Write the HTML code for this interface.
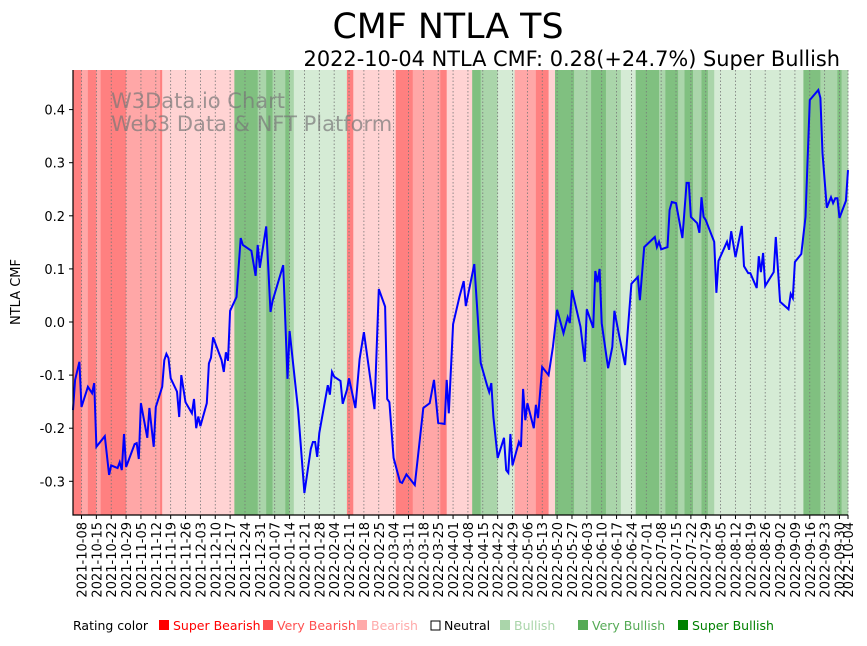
<!DOCTYPE html>
<html><head><meta charset="utf-8"><style>
body{margin:0;background:#fff;}
svg text{font-family:"DejaVu Sans","Liberation Sans",sans-serif;}
</style></head><body>
<svg id="chart" width="867" height="641" xmlns="http://www.w3.org/2000/svg">
<text x="448" y="38" font-size="34.8" text-anchor="middle">CMF NTLA TS</text>
<text x="840" y="66" font-size="20.9" text-anchor="end">2022-10-04 NTLA CMF: 0.28(+24.7%) Super Bullish</text>
<g id="bands"></g><g id="grid"></g>
<text x="111" y="108" font-size="21" fill="#777" fill-opacity="0.7">W3Data.io Chart</text>
<text x="111" y="131" font-size="21" fill="#777" fill-opacity="0.7">Web3 Data &amp; NFT Platform</text>
<path id="line" fill="none" stroke="#0000ff" stroke-width="2"/>
<g id="axes"></g>
<text transform="translate(20,292) rotate(-90)" font-size="13" text-anchor="middle">NTLA CMF</text>
<g id="legend" font-size="12.5">
<text x="73" y="630">Rating color</text>
<rect x="159" y="620" width="10" height="10" fill="#ff0000"/><text x="173" y="630" fill="#ff0000">Super Bearish</text>
<rect x="263" y="620" width="10" height="10" fill="#ff5050"/><text x="277" y="630" fill="#ff5050">Very Bearish</text>
<rect x="357" y="620" width="10" height="10" fill="#ffaaaa"/><text x="371" y="630" fill="#ffaaaa">Bearish</text>
<rect x="431" y="621" width="9" height="9" fill="#fff" stroke="#000"/><text x="444" y="630">Neutral</text>
<rect x="500" y="620" width="10" height="10" fill="#aad5aa"/><text x="514" y="630" fill="#aad5aa">Bullish</text>
<rect x="578" y="620" width="10" height="10" fill="#55aa55"/><text x="592" y="630" fill="#55aa55">Very Bullish</text>
<rect x="678" y="620" width="10" height="10" fill="#008000"/><text x="692" y="630" fill="#008000">Super Bullish</text>
</g>
</svg>
<script>
const days=[0,1,3,4,7,9,10,11,15,17,18,21,22,23,24,25,29,30,31,32,35,36,38,39,42,43,44,45,46,49,50,51,53,56,57,58,59,60,63,64,65,66,70,71,72,73,74,77,79,80,84,86,87,88,91,93,94,99,101,102,106,109,112,113,114,115,116,120,121,122,123,126,127,129,130,133,135,137,142,144,147,148,149,151,154,155,157,161,165,168,170,172,175,176,177,179,182,184,185,189,192,195,196,197,198,200,203,204,205,206,207,210,211,212,213,214,217,218,219,221,224,226,228,231,233,234,235,239,241,242,245,246,247,248,249,252,254,255,257,260,263,266,267,269,274,275,276,277,280,281,282,284,287,289,290,291,294,295,296,297,298,302,303,304,308,309,310,312,315,316,318,319,322,323,324,325,326,330,331,333,337,338,339,340,343,345,347,351,352,353,355,357,358,359,360,361,364,365];
const cmf=[-0.166,-0.109,-0.075,-0.16,-0.122,-0.134,-0.115,-0.235,-0.215,-0.288,-0.27,-0.275,-0.264,-0.279,-0.211,-0.273,-0.23,-0.228,-0.258,-0.153,-0.218,-0.162,-0.235,-0.16,-0.122,-0.072,-0.06,-0.068,-0.106,-0.131,-0.179,-0.1,-0.151,-0.172,-0.145,-0.2,-0.178,-0.196,-0.153,-0.078,-0.067,-0.029,-0.072,-0.094,-0.057,-0.073,0.021,0.047,0.158,0.145,0.134,0.087,0.145,0.102,0.18,0.019,0.04,0.107,-0.107,-0.017,-0.166,-0.322,-0.239,-0.226,-0.226,-0.254,-0.209,-0.119,-0.137,-0.094,-0.103,-0.111,-0.154,-0.128,-0.106,-0.162,-0.07,-0.019,-0.164,0.062,0.029,-0.145,-0.151,-0.256,-0.301,-0.303,-0.287,-0.307,-0.162,-0.153,-0.109,-0.19,-0.192,-0.109,-0.172,-0.004,0.047,0.077,0.03,0.109,-0.077,-0.119,-0.132,-0.115,-0.179,-0.256,-0.218,-0.279,-0.284,-0.211,-0.27,-0.226,-0.235,-0.126,-0.185,-0.153,-0.2,-0.156,-0.181,-0.085,-0.1,-0.047,0.023,-0.021,0.009,-0.002,0.06,-0.009,-0.075,0.024,-0.011,0.096,0.075,0.1,-0.002,-0.087,-0.047,0.021,-0.021,-0.081,0.072,0.085,0.041,0.141,0.16,0.141,0.151,0.137,0.141,0.211,0.226,0.224,0.158,0.262,0.262,0.198,0.186,0.168,0.235,0.198,0.192,0.151,0.055,0.115,0.151,0.136,0.171,0.122,0.181,0.105,0.092,0.092,0.064,0.124,0.094,0.13,0.068,0.094,0.16,0.038,0.024,0.053,0.045,0.113,0.128,0.198,0.418,0.437,0.422,0.318,0.215,0.235,0.224,0.233,0.233,0.196,0.228,0.286];
const bandStart=[0,4,7,11,13,25,41,42,76,87,91,94,100,102,104,129,132,152,160,173,176,188,192,200,208,218,224,227,236,244,251,258,265,276,279,285,288,292,296,299,302,344,352,360,362];
const bandEnd=[4,7,11,13,25,41,42,76,87,91,94,100,102,104,129,132,152,160,173,176,188,192,200,208,218,224,227,236,244,251,258,265,276,279,285,288,292,296,299,302,344,352,360,362,365];
const bandRating=[0,1,0,1,0,1,0,2,6,5,6,5,6,5,4,0,2,0,1,0,2,6,5,4,1,0,2,6,5,6,5,4,6,5,6,5,6,5,6,5,4,6,5,6,5];
const yTicks=[0.4,0.3,0.2,0.1,0.0,-0.1,-0.2,-0.3];
const tickDates=["2021-10-08","2021-10-15","2021-10-22","2021-10-29","2021-11-05","2021-11-12","2021-11-19","2021-11-26","2021-12-03","2021-12-10","2021-12-17","2021-12-24","2021-12-31","2022-01-07","2022-01-14","2022-01-21","2022-01-28","2022-02-04","2022-02-11","2022-02-18","2022-02-25","2022-03-04","2022-03-11","2022-03-18","2022-03-25","2022-04-01","2022-04-08","2022-04-15","2022-04-22","2022-04-29","2022-05-06","2022-05-13","2022-05-20","2022-05-27","2022-06-03","2022-06-10","2022-06-17","2022-06-24","2022-07-01","2022-07-08","2022-07-15","2022-07-22","2022-07-29","2022-08-05","2022-08-12","2022-08-19","2022-08-26","2022-09-02","2022-09-09","2022-09-16","2022-09-23","2022-09-30","2022-10-04"];
const ratingColors=["#ff8080","#ffa7a7","#ffd3d3","#ffffff","#d5ebd5","#aad5aa","#80c080"];
const L=73,R=848,T=70,B=515,D0=Date.UTC(2021,9,4);
const x=d=>L+(d/365)*(R-L);
const y=v=>322-v*531;
const NS="http://www.w3.org/2000/svg";
function mk(tag,parent){const e=document.createElementNS(NS,tag);parent.appendChild(e);return e;}
const bands=document.getElementById('bands');
for(let i=0;i<bandStart.length;i++){const r=mk('rect',bands);


r.setAttribute('x',x(bandStart[i]));r.setAttribute('width',x(bandEnd[i])-x(bandStart[i])+0.3);
r.setAttribute('y',T);r.setAttribute('height',B-T);r.setAttribute('fill',ratingColors[bandRating[i]]);}
const grid=document.getElementById('grid'),axes=document.getElementById('axes');
tickDates.forEach(s=>{const p=s.split('-');const d=(Date.UTC(+p[0],p[1]-1,+p[2])-D0)/864e5;const xx=x(d);
const g=mk('line',grid);


g.setAttribute('x1',xx);g.setAttribute('x2',xx);g.setAttribute('y1',T);g.setAttribute('y2',B);g.setAttribute('stroke','#777');g.setAttribute('stroke-width','0.8');g.setAttribute('stroke-dasharray','1.5,2');
const t=mk('line',axes);


t.setAttribute('x1',xx);t.setAttribute('x2',xx);t.setAttribute('y1',B);t.setAttribute('y2',B+4);t.setAttribute('stroke','#000');
const l=mk('text',axes);


l.setAttribute('transform',`translate(${xx+5},${B+7}) rotate(-90)`);l.setAttribute('text-anchor','end');l.setAttribute('font-size','13');l.textContent=s;});
yTicks.forEach(v=>{const yy=y(v);
const t=mk('line',axes);


t.setAttribute('x1',L-4);t.setAttribute('x2',L);t.setAttribute('y1',yy);t.setAttribute('y2',yy);t.setAttribute('stroke','#000');
const l=mk('text',axes);


l.setAttribute('x',L-8);l.setAttribute('y',yy+5);l.setAttribute('text-anchor','end');l.setAttribute('font-size','13');l.textContent=v.toFixed(1);});
const sp=mk('path',axes);


sp.setAttribute('d',`M${L},${T}V${B}H${R}`);sp.setAttribute('stroke','#000');sp.setAttribute('fill','none');sp.setAttribute('stroke-width','1.2');
document.getElementById('line').setAttribute('d',days.map((d,i)=>(i?'L':'M')+x(d).toFixed(1)+','+y(cmf[i]).toFixed(1)).join(''));
</script>
</body></html>
